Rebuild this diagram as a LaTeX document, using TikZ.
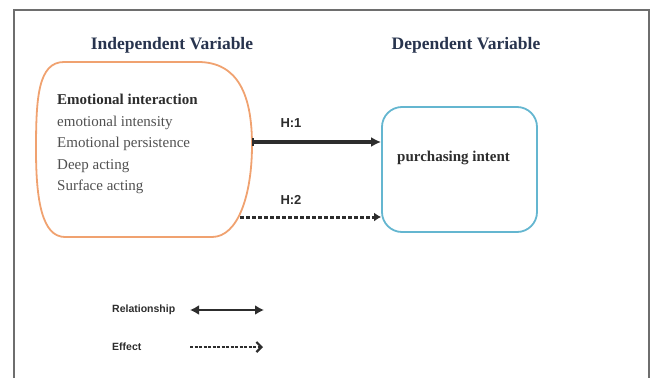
\documentclass[tikz,border=0pt]{standalone}
\usepackage{fontspec}
\setmainfont{Liberation Serif}
\setsansfont{Liberation Sans}
\usetikzlibrary{arrows.meta}
\definecolor{ivorange}{RGB}{240,162,112}
\definecolor{dvblue}{RGB}{100,182,208}
\definecolor{headcol}{RGB}{40,52,78}
\definecolor{itemgray}{RGB}{80,80,80}
\definecolor{arrowgray}{RGB}{45,45,45}
\definecolor{framegray}{RGB}{110,110,110}
\tikzset{
  headtext/.style={font=\fontsize{17.5}{20}\selectfont\bfseries, text=headcol, inner sep=0pt},
  hlabel/.style={font=\fontsize{13}{15}\selectfont\sffamily\bfseries, text=arrowgray, inner sep=0pt},
  legtext/.style={font=\fontsize{10.5}{12}\selectfont\sffamily\bfseries, text=arrowgray, inner sep=0pt, anchor=west},
  relarrow/.style={draw=arrowgray, line width=3.2pt},
  effarrow/.style={draw=arrowgray, line width=3pt, dash pattern=on 4pt off 2pt}
}
\begin{document}
\begin{tikzpicture}[x=1pt, y=-1pt] %%% y=-1pt lets coordinates run downward like pixel rows
      \useasboundingbox (0,0) rectangle (654,378);
      \draw[color=framegray, line width=2.5pt] (14,378) -- (14,10) -- (649,10) -- (649,378); %%% frame

      %%% headings
      \node[headtext] (ivtitle) at (172,45) {Independent Variable};
      \node[headtext] (dvtitle) at (466,45) {Dependent Variable};

      %%% independent variable box with bulging sides
      \draw[color=ivorange, line width=1.8pt] (64,62) -- (198,62)
            .. controls (238,62) and (252,95) .. (252,145)
            .. controls (252,195) and (238,237) .. (212,237) -- (65,237)
            .. controls (42,237) and (36,200) .. (36,150)
            .. controls (36,98) and (38,62) .. (64,62) -- cycle;
      \node[anchor=north west, inner sep=0pt, align=left, text=itemgray,
            font=\fontsize{15}{21.5}\selectfont] (iv) at (57,94)
            {\textbf{\color{arrowgray}Emotional interaction}\\ emotional intensity\\ Emotional persistence\\ Deep acting\\ Surface acting};
      \coordinate (ivout1) at (252,142);
      \coordinate (ivout2) at (240,217);

      %%% dependent variable box
      \node[draw=dvblue, line width=1.8pt, rounded corners=20pt, minimum width=155pt, minimum height=125pt,
            inner sep=0pt] (dv) at (459.5,169.5) {};
      \node[anchor=west, inner sep=0pt, font=\fontsize{15}{17}\selectfont\bfseries, text=arrowgray]
            (dvtext) at (397,158) {purchasing intent};

      %%% hypotheses
      \draw[relarrow, {Bar[width=8pt,line width=1.5pt]}-{Latex[length=10pt,width=10pt]}] (ivout1) -- (ivout1 -| dv.west);
      \draw[effarrow, -{Latex[length=7pt,width=9pt]}] (ivout2) -- (ivout2 -| dv.west);
      \node[hlabel] (h1) at (291,123) {H:1};
      \node[hlabel] (h2) at (291,200) {H:2};

      %%% legend
      \node[legtext] (rel) at (112,310) {Relationship};
      \node[legtext] (eff) at (112,347) {Effect};
      \coordinate (relA) at (190,310);
      \coordinate (relB) at (264,310);
      \coordinate (effA) at (190,347);
      \coordinate (effB) at (263,347);
      \draw[draw=arrowgray, line width=2.2pt, {Latex[length=9pt,width=10pt]}-{Latex[length=9pt,width=10pt]}] (relA) -- (relB);
      \draw[draw=arrowgray, line width=2.2pt, dash pattern=on 3pt off 1.5pt, -{Straight Barb[length=5pt,width=10pt]}] (effA) -- (effB);
    \end{tikzpicture}
\end{document}
